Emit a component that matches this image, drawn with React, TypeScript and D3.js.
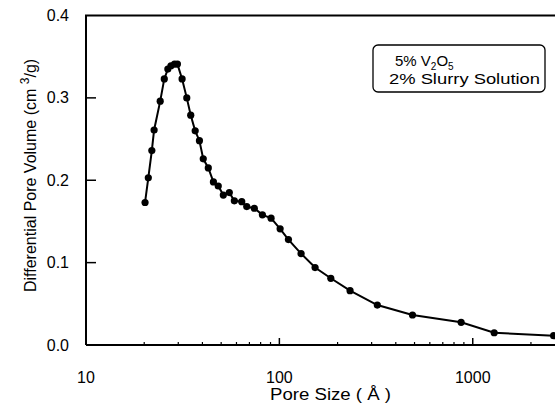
import React, { useEffect, useRef } from "react";
import * as d3 from "d3";

// pore size (Å) and differential pore volume (cm3/g)
const poreSize = [
  20.2, 21.0, 21.9, 22.5, 24.2, 25.4, 26.5, 27.5, 28.7, 29.7, 31.4, 33.2, 34.8,
  36.7, 38.6, 40.4, 42.9, 45.6, 48.3, 51.3, 55.1, 58.5, 63.9, 67.8, 74.2, 81.7,
  90.6, 100.9, 111.4, 129.5, 153, 184.5, 232, 321, 488, 871, 1291, 2620,
];
const poreVolume = [
  0.173, 0.203, 0.236, 0.261, 0.296, 0.323, 0.335, 0.339, 0.341, 0.341, 0.323,
  0.3, 0.279, 0.26, 0.248, 0.226, 0.215, 0.198, 0.193, 0.182, 0.185, 0.175,
  0.174, 0.168, 0.166, 0.158, 0.154, 0.141, 0.128, 0.111, 0.094, 0.081, 0.066,
  0.0485, 0.0364, 0.0275, 0.0149, 0.0113,
];
const yTicks = [0, 0.1, 0.2, 0.3, 0.4];
const xTicks = [10, 100, 1000];

const App = () => {
  const ref = useRef<SVGSVGElement>(null);

  useEffect(() => {
    const svg = d3.select(ref.current);
    svg.selectAll("*").remove();
    const font = "'Liberation Sans', Arial, sans-serif";

    const x = d3.scaleLog().domain([10, 3000]).range([86, 565]);
    const y = d3.scaleLinear().domain([0, 0.4]).range([345, 15.5]);

    // frame
    svg.append("path")
      .attr("d", `M86,${y(0)}V${y(0.4)}H555`)
      .attr("fill", "none").attr("stroke", "#000").attr("stroke-width", 2);
    svg.append("line")
      .attr("x1", 86).attr("x2", 555).attr("y1", y(0)).attr("y2", y(0))
      .attr("stroke", "#000").attr("stroke-width", 2);

    // y ticks (inward)
    const yt = svg.append("g").attr("transform", "translate(86,0)");
    yt.selectAll("line").data(yTicks.slice(1, 4)).join("line")
      .attr("x1", 0).attr("x2", 10)
      .attr("y1", (d) => y(d)).attr("y2", (d) => y(d))
      .attr("stroke", "#000").attr("stroke-width", 1.5);
    yt.selectAll("text").data(yTicks).join("text")
      .attr("x", -17).attr("y", (d) => y(d) + 5.5)
      .attr("text-anchor", "end")
      .attr("font-family", font).attr("font-size", 16)
      .text((d) => d.toFixed(1));

    // x ticks (log, inward)
    const minor: number[] = [];
    [10, 100, 1000].forEach((b) => {
      for (let k = 2; k <= 9; k++) if (b * k <= 2800) minor.push(b * k);
    });
    svg.append("g").selectAll("line").data(minor).join("line")
      .attr("x1", (d) => x(d)).attr("x2", (d) => x(d))
      .attr("y1", y(0)).attr("y2", y(0) - 3)
      .attr("stroke", "#000").attr("stroke-width", 1.2);
    svg.append("g").selectAll("line").data(xTicks.slice(1)).join("line")
      .attr("x1", (d) => x(d)).attr("x2", (d) => x(d))
      .attr("y1", y(0)).attr("y2", y(0) - 7)
      .attr("stroke", "#000").attr("stroke-width", 1.5);
    svg.append("g").selectAll("text").data(xTicks).join("text")
      .attr("x", (d) => x(d)).attr("y", 383)
      .attr("text-anchor", "middle")
      .attr("font-family", font).attr("font-size", 16)
      .text((d) => d);

    // axis titles
    svg.append("text")
      .attr("x", 270).attr("y", 400)
      .attr("font-family", font).attr("font-size", 16)
      .attr("textLength", 121).attr("lengthAdjust", "spacingAndGlyphs")
      .text("Pore Size ( Å )");
    const yl = svg.append("text")
      .attr("transform", "translate(36,292) rotate(-90)")
      .attr("font-family", font).attr("font-size", 16);
    yl.append("tspan").text("Differential Pore Volume (cm ");
    yl.append("tspan").attr("dy", -7).attr("font-size", 12).text("3");
    yl.append("tspan").attr("dy", 7).text("/g)");

    // data line and markers
    const pts = poreSize.map((p, i) => [x(p), y(poreVolume[i])] as [number, number]);
    svg.append("path")
      .attr("d", d3.line()(pts))
      .attr("fill", "none").attr("stroke", "#000").attr("stroke-width", 2);
    svg.append("g").selectAll("circle").data(pts).join("circle")
      .attr("cx", (d) => d[0]).attr("cy", (d) => d[1]).attr("r", 3.6)
      .attr("fill", "#000");

    // legend box
    svg.append("rect")
      .attr("x", 373).attr("y", 45).attr("width", 172).attr("height", 47)
      .attr("rx", 5).attr("fill", "#fff").attr("stroke", "#000").attr("stroke-width", 1.3);
    const l1 = svg.append("text").attr("x", 395).attr("y", 66)
      .attr("font-family", font).attr("font-size", 15);
    l1.append("tspan").text("5% V");
    l1.append("tspan").attr("dy", 4).attr("font-size", 10).text("2");
    l1.append("tspan").attr("dy", -4).text("O");
    l1.append("tspan").attr("dy", 4).attr("font-size", 10).text("5");
    svg.append("text").attr("x", 389).attr("y", 84)
      .attr("font-family", font).attr("font-size", 15)
      .attr("textLength", 151).attr("lengthAdjust", "spacingAndGlyphs")
      .text("2% Slurry Solution");
  }, []);

  return (
    <svg
      ref={ref}
      width={555}
      height={407}
      style={{ position: "absolute", left: 0, top: 0, background: "#fff" }}
    />
  );
};

export default App;
